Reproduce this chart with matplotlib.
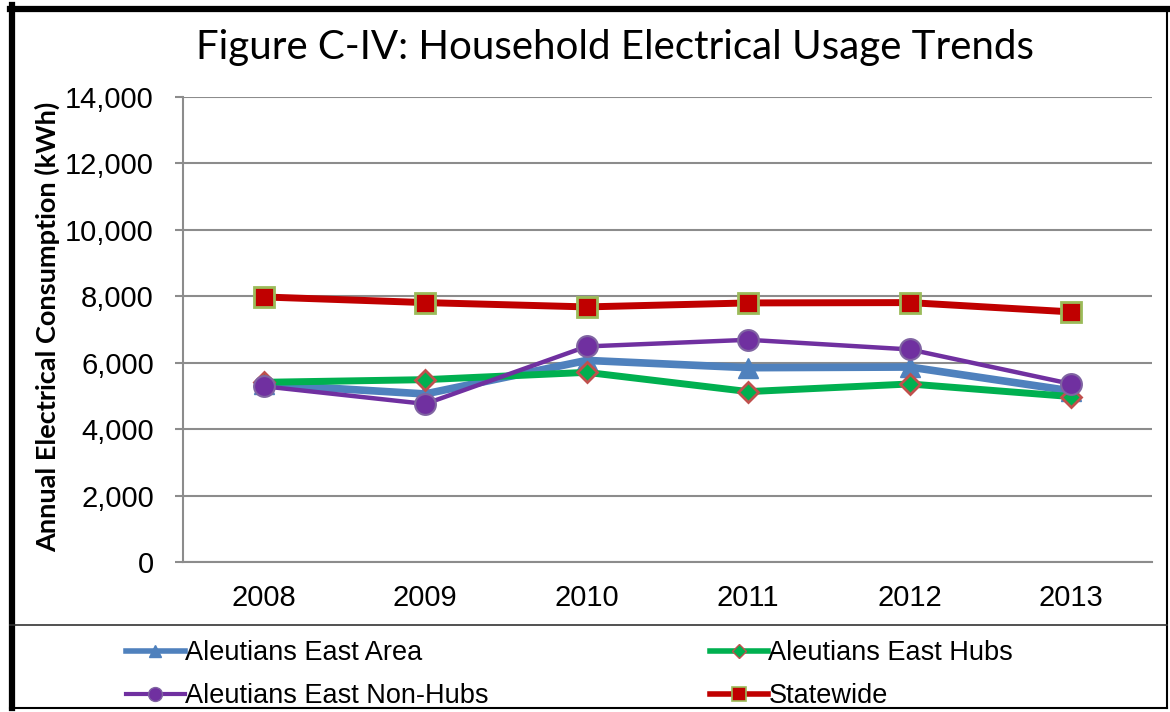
import numpy as np
import matplotlib.pyplot as plt
from matplotlib.lines import Line2D

years = ['2008', '2009', '2010', '2011', '2012', '2013']
area = [5350, 5060, 6070, 5850, 5870, 5150]
hubs = [5410, 5490, 5710, 5130, 5360, 4980]
nonhubs = [5290, 4760, 6490, 6690, 6400, 5360]
statewide = [7980, 7810, 7680, 7800, 7810, 7530]

W, H = 1170, 712
fig = plt.figure(figsize=(W / 100, H / 100), dpi=100)

def fx(px):
    return px / W

def fy(py):
    return 1 - py / H

ax = fig.add_axes([fx(183), fy(562), fx(1152) - fx(183), fy(97) - fy(562)])
x = np.arange(len(years))

grid_c = '#8c8c8c'
ax.plot(x, area, color='#4F81BD', lw=5.5, marker='^', ms=14,
        mfc='#4F81BD', mec='#4F81BD', zorder=3, label='Aleutians East Area')
ax.plot(x, hubs, color='#00B050', lw=5, marker='D', ms=10,
        mfc='#00B050', mec='#C0504D', mew=2, zorder=4, label='Aleutians East Hubs')
ax.plot(x, nonhubs, color='#7030A0', lw=3.2, marker='o', ms=15,
        mfc='#7030A0', mec='#8064A2', mew=1.5, zorder=5, label='Aleutians East Non-Hubs')
ax.plot(x, statewide, color='#C00000', lw=5, marker='s', ms=14,
        mfc='#C00000', mec='#9BBB59', mew=2, zorder=6, label='Statewide')

ax.set_xlim(-0.5, len(years) - 0.5)
ax.set_ylim(0, 14000)
ax.set_yticks(np.arange(0, 14001, 2000))
ax.set_yticklabels([f'{v:,}' for v in range(0, 14001, 2000)])
ax.set_xticks(x)
ax.set_xticklabels(years)
ax.yaxis.grid(True, color=grid_c, lw=1.5)
ax.set_axisbelow(True)
for s in ['top', 'right']:
    ax.spines[s].set_visible(False)
for s in ['left', 'bottom']:
    ax.spines[s].set_color(grid_c)
    ax.spines[s].set_linewidth(1.5)
ax.tick_params(axis='y', length=6, width=1.5, color=grid_c, pad=15,
               labelsize=21)
ax.tick_params(axis='x', length=0, pad=16, labelsize=21)
for t in ax.get_xticklabels() + ax.get_yticklabels():
    t.set_fontfamily(['Liberation Sans', 'DejaVu Sans'])

fig.text(fx(615), fy(48), 'Figure C-IV: Household Electrical Usage Trends',
         ha='center', va='center', fontsize=29, family=['Lato', 'DejaVu Sans'])
fig.text(fx(47), fy(327), 'Annual Electrical Consumption (kWh)', rotation=90,
         ha='center', va='center', fontsize=19.5, fontweight='bold',
         family=['Lato', 'DejaVu Sans'])

# border and legend separator
fig.add_artist(Line2D([fx(12), fx(12)], [fy(5), fy(708)], color='black', lw=4.5))
fig.add_artist(Line2D([fx(10), fx(1167)], [fy(9), fy(9)], color='black', lw=4.5))
fig.add_artist(Line2D([fx(1167), fx(1167)], [fy(9), fy(708)], color='black', lw=1.5))
fig.add_artist(Line2D([fx(10), fx(1167)], [fy(708), fy(708)], color='black', lw=1.5))
fig.add_artist(Line2D([fx(10), fx(1167)], [fy(625), fy(625)], color='#333333', lw=1.2))

# legend with slimmer handles like the reference
leg_handles = [
    Line2D([], [], color='#4F81BD', lw=4, marker='^', ms=9, mfc='#4F81BD', mec='#4F81BD'),
    Line2D([], [], color='#7030A0', lw=3, marker='o', ms=10, mfc='#7030A0', mec='#8064A2'),
    Line2D([], [], color='#00B050', lw=4, marker='D', ms=7, mfc='#00B050', mec='#C0504D', mew=1),
    Line2D([], [], color='#C00000', lw=4, marker='s', ms=10, mfc='#C00000', mec='#9BBB59', mew=1.2),
]
leg_labels = ['Aleutians East Area', 'Aleutians East Non-Hubs',
              'Aleutians East Hubs', 'Statewide']
leg = fig.legend(leg_handles, leg_labels,
                 loc='upper left', bbox_to_anchor=(fx(102), fy(616)),
                 ncol=2, frameon=False, handlelength=2.15, handletextpad=0.0,
                 columnspacing=8.2, labelspacing=0.62,
                 prop={'family': ['Liberation Sans', 'DejaVu Sans'], 'size': 19.5})

fig.savefig('out.png', dpi=100)
